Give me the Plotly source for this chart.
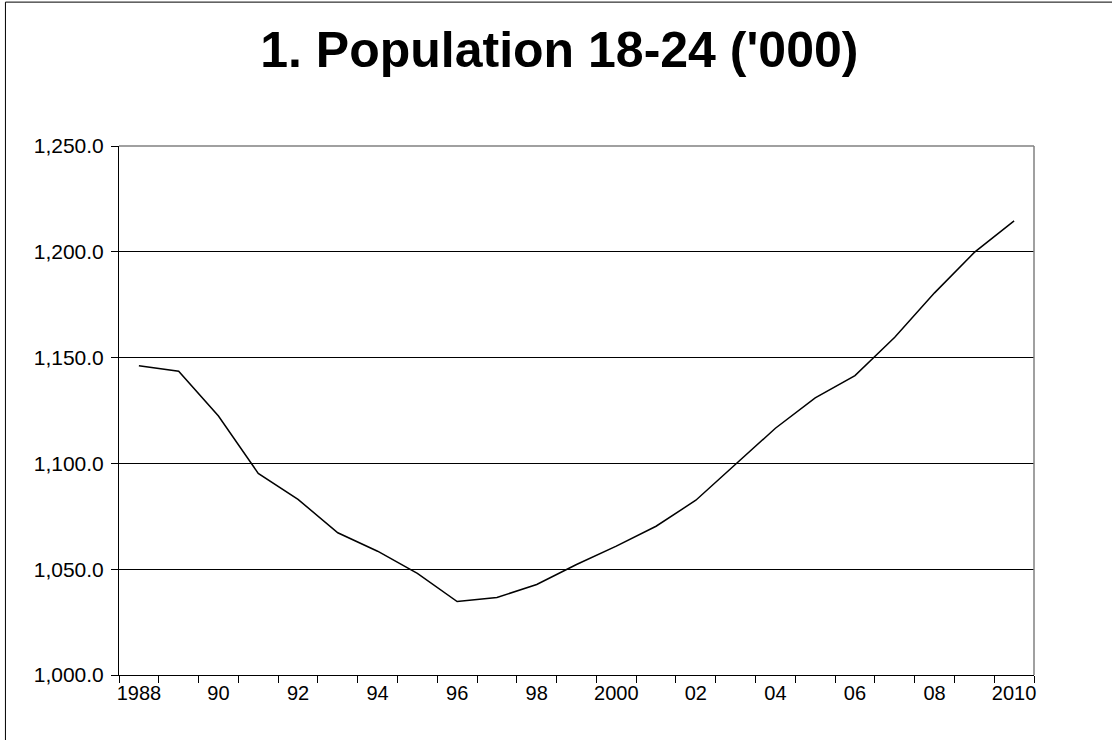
import plotly.graph_objects as go

# Population aged 18-24, thousands
years = list(range(1988, 2011))
population = [1146.2, 1143.6, 1122.4, 1095.3, 1083.0, 1067.2, 1058.5, 1048.0,
              1034.7, 1036.6, 1042.8, 1052.2, 1060.9, 1070.3, 1082.6, 1099.8,
              1116.6, 1131.0, 1141.5, 1159.6, 1180.6, 1199.7, 1214.6]

label_years = list(range(1988, 2011, 2))
label_text = ["1988", "90", "92", "94", "96", "98", "2000", "02", "04", "06", "08", "2010"]
y_ticks = [1000, 1050, 1100, 1150, 1200, 1250]
y_text = ["1,000.0", "1,050.0", "1,100.0", "1,150.0", "1,200.0", "1,250.0"]

FONT = "Arial, Liberation Sans, sans-serif"

fig = go.Figure()
fig.add_trace(go.Scatter(
    x=years, y=population, mode="lines",
    line=dict(color="black", width=1.5),
    hoverinfo="x+y", showlegend=False,
))

fig.update_layout(
    width=1112, height=740,
    margin=dict(l=119, r=78, t=146, b=65),
    paper_bgcolor="white", plot_bgcolor="white",
    title=dict(
        text="<b>1. Population 18-24 ('000)</b>",
        x=0.503, xref="container", xanchor="center",
        y=0.933, yref="container", yanchor="middle",
        font=dict(family=FONT, size=50, color="black"),
    ),
    font=dict(family=FONT, size=20, color="black"),
)

fig.update_xaxes(
    range=[1987.5, 2010.5],
    tickmode="array", tickvals=label_years, ticktext=label_text,
    ticks="", showgrid=False, zeroline=False,
    showline=True, linecolor="black", linewidth=1,
    minor=dict(tickmode="linear", tick0=1987.5, dtick=1, ticks="outside",
               ticklen=7, tickcolor="black", tickwidth=1, showgrid=False),
    tickfont=dict(family=FONT, size=20, color="black"),
)

fig.update_yaxes(
    range=[1000, 1250],
    tickmode="array", tickvals=y_ticks, ticktext=y_text,
    ticks="outside", ticklen=7, tickcolor="black", tickwidth=1,
    ticklabelstandoff=3,
    showgrid=True, gridcolor="black", gridwidth=1, zeroline=False,
    showline=True, linecolor="black", linewidth=1,
    tickfont=dict(family=FONT, size=21, color="black"),
)

# Grey top and right edges of the plot area
fig.add_shape(type="line", xref="paper", yref="paper", x0=0, x1=1, y0=1, y1=1,
              line=dict(color="#808080", width=1.5), layer="above")
fig.add_shape(type="line", xref="paper", yref="paper", x0=1, x1=1, y0=0, y1=1,
              line=dict(color="#808080", width=1.5), layer="above")

# Outer chart frame
fig.add_shape(type="rect", xref="paper", yref="paper",
              x0=-0.1241, x1=1.2, y0=-0.3, y1=1.2720,
              line=dict(color="black", width=1), layer="below")

fig.write_html("out.html")
